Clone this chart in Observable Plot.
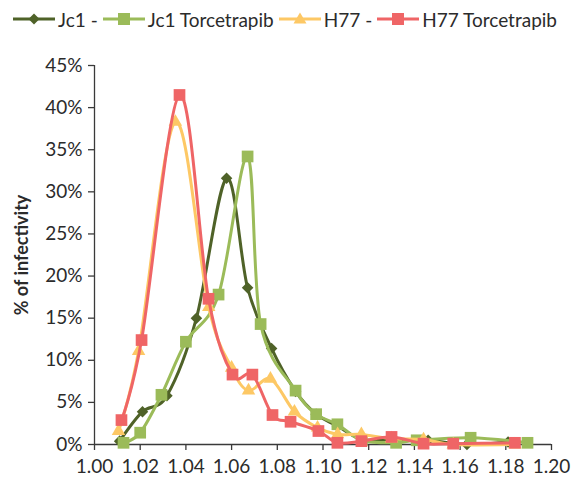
<!DOCTYPE html>
<html><head><meta charset="utf-8">
<script src="https://cdn.jsdelivr.net/npm/d3@7"></script>
<script src="https://cdn.jsdelivr.net/npm/@observablehq/plot@0.6"></script>
<style>
body{margin:0;background:#fff;font-family:Lato,sans-serif;}
#legend{height:38px;display:flex;align-items:center;padding-left:13px;font-size:19px;color:#2b2b2b;white-space:nowrap;box-sizing:border-box}
.item{display:flex;align-items:center;margin-right:5px}
.item svg{margin-right:3px}
</style></head><body>
<div id="legend"></div>
<div id="chart"></div>
<script>
// ---- data ----
const seriesNames = ["Jc1 -", "Jc1 Torcetrapib", "H77 -", "H77 Torcetrapib"];
const seriesColors = ["#4f6228", "#9bbb59", "#fdc865", "#ef6566"];

const jc1X = [1.011, 1.021, 1.0317, 1.0446, 1.0578, 1.067, 1.0775, 1.088, 1.097, 1.1063, 1.117, 1.130, 1.146, 1.163, 1.181];
const jc1Y = [0.4, 3.9, 5.8, 15.0, 31.6, 18.6, 11.4, 6.3, 3.6, 2.2, 0.6, 0.6, 0.5, 0.0, 0.3];

const jc1TorX = [1.0127, 1.020, 1.0293, 1.040, 1.0543, 1.067, 1.0727, 1.088, 1.097, 1.1063, 1.117, 1.132, 1.141, 1.1646, 1.1895];
const jc1TorY = [0.2, 1.4, 5.9, 12.2, 17.8, 34.2, 14.3, 6.4, 3.6, 2.4, 0.5, 0.2, 0.5, 0.8, 0.2];

const h77X = [1.0105, 1.0193, 1.0354, 1.050, 1.060, 1.0674, 1.077, 1.0875, 1.0976, 1.1064, 1.1168, 1.130, 1.144, 1.157, 1.184];
const h77Y = [1.6, 11.1, 38.3, 16.3, 9.1, 6.4, 7.8, 3.9, 2.0, 1.2, 1.2, 0.7, 0.6, 0.0, 0.0];

const h77TorX = [1.0118, 1.0206, 1.0372, 1.0499, 1.0604, 1.0691, 1.0779, 1.0858, 1.098, 1.1063, 1.1168, 1.130, 1.144, 1.157, 1.184];
const h77TorY = [2.9, 12.4, 41.5, 17.3, 8.3, 8.3, 3.5, 2.7, 1.6, 0.2, 0.4, 0.9, 0.1, 0.1, 0.2];

const xTicks = [1.00, 1.02, 1.04, 1.06, 1.08, 1.10, 1.12, 1.14, 1.16, 1.18, 1.20];
const yTicks = [0, 5, 10, 15, 20, 25, 30, 35, 40, 45];
const yTitle = "% of infectivity";

// ---- build ----
const diamond = {draw(ctx, size){ const h = Math.sqrt(size / 2); ctx.moveTo(0,-h); ctx.lineTo(h,0); ctx.lineTo(0,h); ctx.lineTo(-h,0); ctx.closePath(); }};
const symbols = [diamond, "square", "triangle", "square"];
const radii = [4.6, 6.6, 5.0, 6.6];
const xs = [jc1X, jc1TorX, h77X, h77TorX];
const ys = [jc1Y, jc1TorY, h77Y, h77TorY];
const series = seriesNames.map((name, i) => xs[i].map((x, j) => ({x, y: ys[i][j], name})));

const marks = [
  Plot.ruleY([0], {x1: 1.0, x2: 1.2, stroke: "#3a3a3a", strokeWidth: 1.3}),
  Plot.ruleX([1.0], {y1: 0, y2: 45, stroke: "#3a3a3a", strokeWidth: 1.3}),
  Plot.axisX({ticks: xTicks, tickFormat: d3.format(".2f"), tickSize: 6, tickPadding: 9, stroke: "#3a3a3a", strokeWidth: 1.3, fill: "#2b2b2b", label: null}),
  Plot.axisY({ticks: yTicks, tickFormat: d => d + "%", tickSize: 6, tickPadding: 6, stroke: "#3a3a3a", strokeWidth: 1.3, fill: "#2b2b2b", label: null}),
  Plot.text([yTitle], {frameAnchor: "left", textAnchor: "middle", dx: -72, rotate: -90, fontWeight: "bold", fontSize: 18, fill: "#2b2b2b"})
];
series.forEach((d, i) => {
  marks.push(Plot.line(d, {x: "x", y: "y", stroke: seriesColors[i], strokeWidth: 3, curve: "cardinal"}));
  marks.push(Plot.dot(d, {x: "x", y: "y", fill: seriesColors[i], symbol: symbols[i], r: radii[i], stroke: "none"}));
});

const chart = Plot.plot({
  width: 573, height: 448,
  marginTop: 27, marginBottom: 42, marginLeft: 94, marginRight: 22,
  style: {fontFamily: "Lato, sans-serif", fontSize: "19px", background: "#fff", color: "#2b2b2b"},
  x: {domain: [1.0, 1.2]},
  y: {domain: [0, 45]},
  marks
});
document.getElementById("chart").appendChild(chart);

// ---- legend ----
const legend = document.getElementById("legend");
const shapes = [
  c => `<path d="M21,4.5 L26.5,10 L21,15.5 L15.5,10Z" fill="${c}"/>`,
  c => `<rect x="15" y="4" width="12" height="12" fill="${c}"/>`,
  c => `<path d="M21,3.5 L27.5,14.5 L14.5,14.5Z" fill="${c}"/>`,
  c => `<rect x="15" y="4" width="12" height="12" fill="${c}"/>`
];
seriesNames.forEach((name, i) => {
  const it = document.createElement("div");
  it.className = "item";
  it.innerHTML = `<svg width="42" height="20"><line x1="0" x2="42" y1="10" y2="10" stroke="${seriesColors[i]}" stroke-width="3"/>${shapes[i](seriesColors[i])}</svg><span>${name}</span>`;
  legend.appendChild(it);
});
</script>
</body></html>
